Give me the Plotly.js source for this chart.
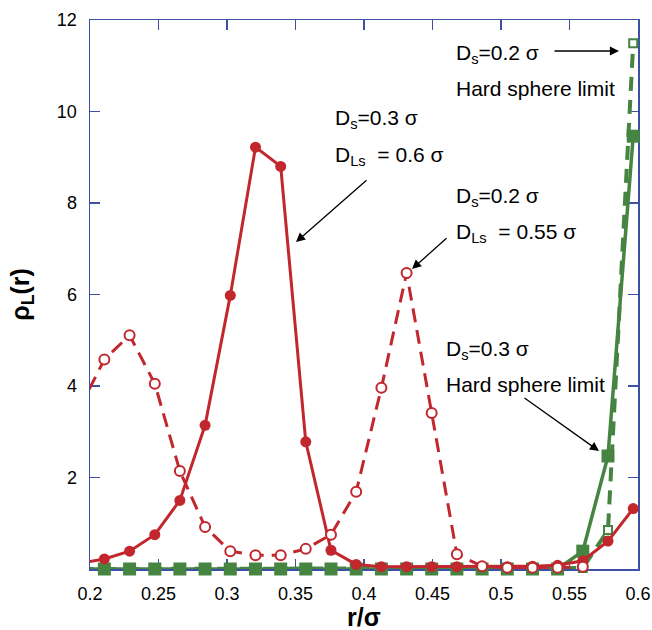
<!DOCTYPE html>
<html>
<head>
<meta charset="utf-8">
<script src="https://cdn.plot.ly/plotly-3.0.1.min.js"></script>
<style>html,body{margin:0;padding:0;background:#fff;}#chart{width:652px;height:630px;}</style>
</head>
<body>
<div id="chart"></div>
<script>
// ---- data ----
const r = [0.1921, 0.2105, 0.2289, 0.2473, 0.2656, 0.2840, 0.3024, 0.3208, 0.3392, 0.3575, 0.3759,
           0.3943, 0.4127, 0.4311, 0.4494, 0.4678, 0.4862, 0.5046, 0.5230, 0.5413, 0.5597, 0.5781, 0.5965];
// Ds = 0.3 sigma, DLs = 0.6 sigma (solid red, filled circles)
const rhoDs03DLs06 = [0.12, 0.22, 0.39, 0.75, 1.50, 3.14, 5.98, 9.22, 8.80, 2.78, 0.41,
                      0.10, 0.05, 0.05, 0.05, 0.05, 0.05, 0.05, 0.06, 0.08, 0.18, 0.61, 1.32];
// Ds = 0.2 sigma, DLs = 0.55 sigma (dashed red, open circles)
const rhoDs02DLs055 = [3.50, 4.58, 5.11, 4.05, 2.14, 0.92, 0.39, 0.30, 0.30, 0.44, 0.75,
                       1.69, 3.96, 6.47, 3.41, 0.32, 0.06, 0.03, 0.03, 0.03, 0.05, null, null];
// Ds = 0.3 sigma, hard sphere limit (solid green, filled squares)
const rhoDs03HS = [0, 0, 0, 0, 0, 0, 0, 0, 0, 0, 0,
                   0, 0, 0, 0, 0, 0, 0, 0, 0, 0.39, 2.47, 9.46];
// Ds = 0.2 sigma, hard sphere limit (dashed green, open squares)
const rhoDs02HS = [0, 0, 0, 0, 0, 0, 0, 0, 0, 0, 0,
                   0, 0, 0, 0, 0, 0, 0, 0, 0, 0.02, 0.85, 11.49];
const xTickVals = [0.2, 0.25, 0.3, 0.35, 0.4, 0.45, 0.5, 0.55, 0.6];
const xTickText = ["0.2", "0.25", "0.3", "0.35", "0.4", "0.45", "0.5", "0.55", "0.6"];
const yTickVals = [2, 4, 6, 8, 10, 12];
const yTickText = ["2", "4", "6", "8", "10", "12"];
const xTitle = '<b>r/σ</b>';
const yTitle = '<b>ρ<sub>L</sub>(r)</b>';

// ---- style ----
const RED = '#c1272d', GREEN = '#468442', AXIS = '#3d50a6';
const FONT = 'Liberation Sans, Arial, Helvetica, sans-serif';
// plot-area pixel frame -> data coords (for placing labels/arrows)
const PX0 = 90, PX1 = 638, PY0 = 569, PY1 = 20;
const px2x = p => 0.2 + (p - PX0) / (PX1 - PX0) * 0.4;
const py2y = p => (PY0 - p) / (PY0 - PY1) * 12;

const traces = [
  {x: r, y: rhoDs02HS, mode: 'lines+markers', cliponaxis: false,
   line: {color: GREEN, width: 4, dash: '14px,9px'},
   marker: {symbol: 'square', size: 8, color: '#fff', line: {color: GREEN, width: 2}}},
  {x: r, y: rhoDs03HS, mode: 'lines+markers', cliponaxis: false,
   line: {color: GREEN, width: 3.5},
   marker: {symbol: 'square', size: 13, color: GREEN}},
  {x: r, y: rhoDs03DLs06, mode: 'lines+markers', cliponaxis: false,
   line: {color: RED, width: 3},
   marker: {symbol: 'circle', size: 11, color: RED}},
  {x: r, y: rhoDs02DLs055, mode: 'lines+markers', cliponaxis: false,
   line: {color: RED, width: 3, dash: '14px,8px'},
   marker: {symbol: 'circle', size: 10, color: '#fff', line: {color: RED, width: 2}}}
];

function label(text, px, py) {
  return {x: px2x(px), y: py2y(py), xref: 'x', yref: 'y', text: text, showarrow: false,
          xanchor: 'left', yanchor: 'middle', font: {family: FONT, size: 21, color: '#000'}};
}
function arrow(tx, ty, hx, hy) {
  return {x: px2x(hx), y: py2y(hy), ax: px2x(tx), ay: py2y(ty), xref: 'x', yref: 'y',
          axref: 'x', ayref: 'y', text: '', showarrow: true, arrowhead: 2, arrowsize: 1.4,
          arrowwidth: 1.3, arrowcolor: '#000', standoff: 0, startstandoff: 0};
}
const NB = '\u00a0';
const annotations = [
  label('D<sub>s</sub>=0.3 σ', 333, 119),
  label('D<sub>Ls</sub>' + NB + NB + '= 0.6 σ', 333, 156),
  label('D<sub>s</sub>=0.2 σ', 454, 197),
  label('D<sub>Ls</sub>' + NB + NB + '= 0.55 σ', 454, 233),
  label('D<sub>s</sub>=0.2 σ', 454, 54),
  label('Hard sphere limit', 454, 88),
  label('D<sub>s</sub>=0.3 σ', 444, 350),
  label('Hard sphere limit', 444, 384),
  arrow(368, 179, 296, 242),
  arrow(448, 237, 412, 269),
  arrow(553, 51, 619, 51),
  arrow(523, 397, 599, 451),
  // x-axis title
  {x: 0.5, y: (PY0 - 617) / (PY0 - PY1), xref: 'paper', yref: 'paper', text: xTitle,
   showarrow: false, xanchor: 'center', yanchor: 'middle', height: 22,
   font: {family: FONT, size: 25, color: '#000'}}
];

const axisCommon = {
  showline: true, linecolor: AXIS, linewidth: 1.5, mirror: 'ticks',
  ticks: 'inside', ticklen: 10, tickwidth: 1.3, tickcolor: AXIS,
  showgrid: false, zeroline: false, layer: 'below traces',
  tickfont: {family: FONT, size: 18, color: '#000'}
};

const layout = {
  width: 652, height: 630,
  margin: {l: 90, r: 14, t: 20, b: 61},
  paper_bgcolor: '#fff', plot_bgcolor: '#fff',
  showlegend: false,
  xaxis: Object.assign({}, axisCommon, {
    range: [0.2, 0.6], tickvals: xTickVals, ticktext: xTickText, ticklabelstandoff: 8
  }),
  yaxis: Object.assign({}, axisCommon, {
    range: [0, 12], tickvals: yTickVals, ticktext: yTickText, ticklabelstandoff: 8,
    title: {text: yTitle, font: {family: FONT, size: 25, color: '#000'}, standoff: 20}
  }),
  annotations: annotations
};

Plotly.newPlot('chart', traces, layout, {displayModeBar: false, staticPlot: true});
</script>
</body>
</html>
